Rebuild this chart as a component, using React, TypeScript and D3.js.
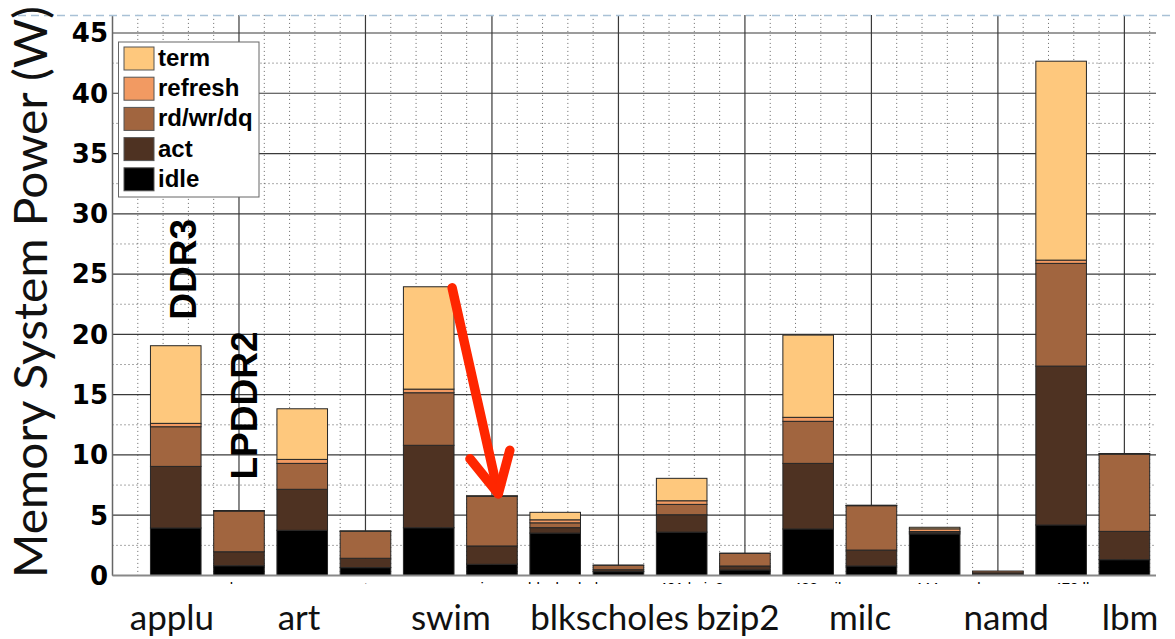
import React from 'react';
import * as d3 from 'd3';

// ---- data ----
const benchmarks = ['applu', 'art', 'swim', 'blkscholes', 'bzip2', 'milc', 'namd', 'lbm'];
const memoryTypes = ['DDR3', 'LPDDR2'];
const seriesKeys = ['idle', 'act', 'rd/wr/dq', 'refresh', 'term'];
const legendOrder = ['term', 'refresh', 'rd/wr/dq', 'act', 'idle'];
// one value per bar: applu DDR3, applu LPDDR2, art DDR3, art LPDDR2, ...
const idle = [3.94, 0.81, 3.75, 0.65, 3.96, 0.93, 3.52, 0.32, 3.60, 0.46, 3.86, 0.79, 3.45, 0.10, 4.19, 1.31];
const act = [5.11, 1.16, 3.40, 0.78, 6.84, 1.52, 0.45, 0.16, 1.44, 0.33, 5.44, 1.32, 0.10, 0.12, 13.18, 2.35];
const rdwrdq = [3.29, 3.38, 2.15, 2.23, 4.36, 4.12, 0.40, 0.37, 0.86, 1.05, 3.49, 3.68, 0.10, 0.15, 8.52, 6.41];
const refresh = [0.28, 0.02, 0.33, 0.02, 0.30, 0.02, 0.25, 0.01, 0.30, 0.01, 0.33, 0.02, 0.22, 0.0, 0.27, 0.03];
const term = [6.44, 0.02, 4.20, 0.02, 8.49, 0.02, 0.62, 0.0, 1.86, 0.0, 6.82, 0.02, 0.13, 0.0, 16.50, 0.02];
const yTicks = [0, 5, 10, 15, 20, 25, 30, 35, 40, 45];
const xTickNames = ['applu', 'art', 'swim', 'blackscholes', '401.bzip2', '433.milc', '444.namd', '470.lbm'];

// ---- layout (data units of the x scale) ----
const categoryLabelPos = [0.94, 2.95, 5.35, 7.86, 9.89, 11.82, 14.13, 16.09];
const xTickLabelPos = [1.75, 3.9, 5.8, 7.25, 9.15, 11.2, 13.2, 15.3];

const colors: Record<string, string> = {
  term: '#FEC87D',
  refresh: '#F29A62',
  'rd/wr/dq': '#A1653F',
  act: '#4E3222',
  idle: '#000000',
};

export default function App() {
  const W = 1175;
  const H = 639;
  const x = d3.scaleLinear().domain([0, 16.5]).range([112.5, 1156]);
  const y = d3.scaleLinear().domain([0, 46.5]).range([575.5, 14.9]);
  const barW = x(0.8) - x(0);

  const rows = idle.map((_, i) => ({
    pos: i + 1,
    idle: idle[i],
    act: act[i],
    'rd/wr/dq': rdwrdq[i],
    refresh: refresh[i],
    term: term[i],
  }));
  const stacked = d3.stack<any>().keys(seriesKeys)(rows);
  const totals = rows.map((r) => seriesKeys.reduce((s, k) => s + (r as any)[k], 0));

  const majorY = d3.range(0, 45.01, 5);
  const minorY = d3.range(2.5, 46, 5);
  const majorX = d3.range(2, 16.01, 2);
  const minorX = d3.range(0.4, 16.5, 0.4).filter((v) => Math.abs(v / 2 - Math.round(v / 2)) > 0.01);

  // arrow from top of swim DDR3 to top of swim LPDDR2
  const swimD = 4; // index of swim DDR3
  const start: [number, number] = [x(rows[swimD].pos + 0.37), y(totals[swimD]) + 1];
  const tip: [number, number] = [x(rows[swimD + 1].pos + 0.1), y(totals[swimD + 1]) - 2];
  const ang = Math.atan2(start[1] - tip[1], start[0] - tip[0]);
  const wl = 45;
  const wing = (d: number): [number, number] => [tip[0] + wl * Math.cos(ang + d), tip[1] + wl * Math.sin(ang + d)];
  const w1 = wing(-0.46);
  const w2 = wing(0.48);

  return (
    <svg
      width={W}
      height={H}
      style={{ position: 'absolute', left: 0, top: 0, background: '#fff' }}
      fontFamily="'Liberation Sans', Arial, sans-serif"
    >
      <defs>
        <clipPath id="tickclip">
          <rect x={0} y={578} width={W} height={6} />
        </clipPath>
      </defs>
      <rect x={0} y={0} width={W} height={H} fill="#fff" />

      {/* grid */}
      {minorY.map((v) => (
        <line key={'my' + v} x1={x(0)} x2={x(16.5)} y1={y(v)} y2={y(v)} stroke="#555" strokeWidth={1} strokeDasharray="1,3" />
      ))}
      {minorX.map((v) => (
        <line key={'mx' + v} x1={x(v)} x2={x(v)} y1={y(46.5)} y2={y(0)} stroke="#666" strokeWidth={1} strokeDasharray="1,3" />
      ))}
      {majorY.map((v) => (
        <line key={'My' + v} x1={x(0)} x2={x(16.5)} y1={y(v)} y2={y(v)} stroke="#3a3a3a" strokeWidth={1.2} />
      ))}
      {majorX.map((v) => (
        <line key={'Mx' + v} x1={x(v)} x2={x(v)} y1={y(46.5)} y2={y(0)} stroke="#3a3a3a" strokeWidth={1.2} />
      ))}

      {/* bars */}
      {stacked.map((series) =>
        series.map((d, i) => {
          const h = y(d[0]) - y(d[1]);
          if (h <= 0) return null;
          return (
            <rect
              key={series.key + i}
              x={x(rows[i].pos) - barW / 2}
              y={y(d[1])}
              width={barW}
              height={h}
              fill={colors[series.key]}
              stroke="#262626"
              strokeWidth={1}
            />
          );
        })
      )}

      {/* axes */}
      <line x1={x(0)} x2={x(0)} y1={y(46.5)} y2={y(0)} stroke="#666" strokeWidth={1.5} />
      <line x1={x(0)} x2={x(16.5)} y1={y(0)} y2={y(0)} stroke="#888" strokeWidth={2} />

      {/* y tick labels */}
      {yTicks.map((t) => (
        <text
          key={'yt' + t}
          x={108}
          y={y(t)}
          dy="0.36em"
          textAnchor="end"
          fontFamily="'DejaVu Sans', sans-serif"
          fontWeight="bold"
          fontSize={26}
          fill="#000"
        >
          {t}
        </text>
      ))}

      {/* clipped original tick labels (mostly hidden) */}
      <g clipPath="url(#tickclip)">
        {xTickNames.map((n, i) => (
          <text key={'xt' + n} x={x(xTickLabelPos[i])} y={593} textAnchor="middle" fontSize={15} fill="#000">
            {n}
          </text>
        ))}
      </g>

      {/* dashed frame line on top */}
      <line x1={18} x2={W} y1={15.5} y2={15.5} stroke="#A9C1D6" strokeWidth={1.5} strokeDasharray="8,5" />

      {/* legend */}
      <g>
        <rect x={118.5} y={42} width={140.5} height={155} fill="#fff" stroke="#666" strokeWidth={1} />
        {legendOrder.map((k, i) => (
          <g key={'lg' + k} transform={`translate(124, ${47 + i * 30.2})`}>
            <rect x={0} y={0} width={30} height={23} fill={colors[k]} stroke="#555" strokeWidth={1} />
            <text x={34} y={19} fontSize={24} fontWeight="bold" fill="#000">
              {k}
            </text>
          </g>
        ))}
      </g>

      {/* memory type annotations */}
      <text
        transform={`translate(${x(1.32)}, ${y(25.4)}) rotate(-90)`}
        textAnchor="middle"
        fontSize={37}
        fontWeight="bold"
        fill="#000"
      >
        {memoryTypes[0]}
      </text>
      <text
        transform={`translate(${x(2.28)}, ${y(14.1)}) rotate(-90)`}
        textAnchor="middle"
        fontSize={37}
        fontWeight="bold"
        fill="#000"
      >
        {memoryTypes[1]}
      </text>

      {/* red arrow */}
      <g stroke="#FF2600" strokeWidth={9.5} strokeLinecap="round" strokeLinejoin="round" fill="none">
        <line x1={start[0]} y1={start[1]} x2={tip[0]} y2={tip[1]} />
        <polyline points={`${w1[0]},${w1[1]} ${tip[0]},${tip[1]} ${w2[0]},${w2[1]}`} />
      </g>

      {/* y axis title */}
      <text
        transform="translate(47, 292) rotate(-90)"
        textAnchor="middle"
        fontFamily="Lato, 'Open Sans', sans-serif"
        fontSize={46}
        textLength={572}
        lengthAdjust="spacingAndGlyphs"
        fill="#111"
      >
        Memory System Power (W)
      </text>

      {/* category labels */}
      {benchmarks.map((b, i) => (
        <text
          key={'cl' + b}
          x={x(categoryLabelPos[i])}
          y={630}
          textAnchor="middle"
          fontFamily="Lato, 'Open Sans', sans-serif"
          fontSize={35}
          fill="#111"
        >
          {b}
        </text>
      ))}
    </svg>
  );
}
